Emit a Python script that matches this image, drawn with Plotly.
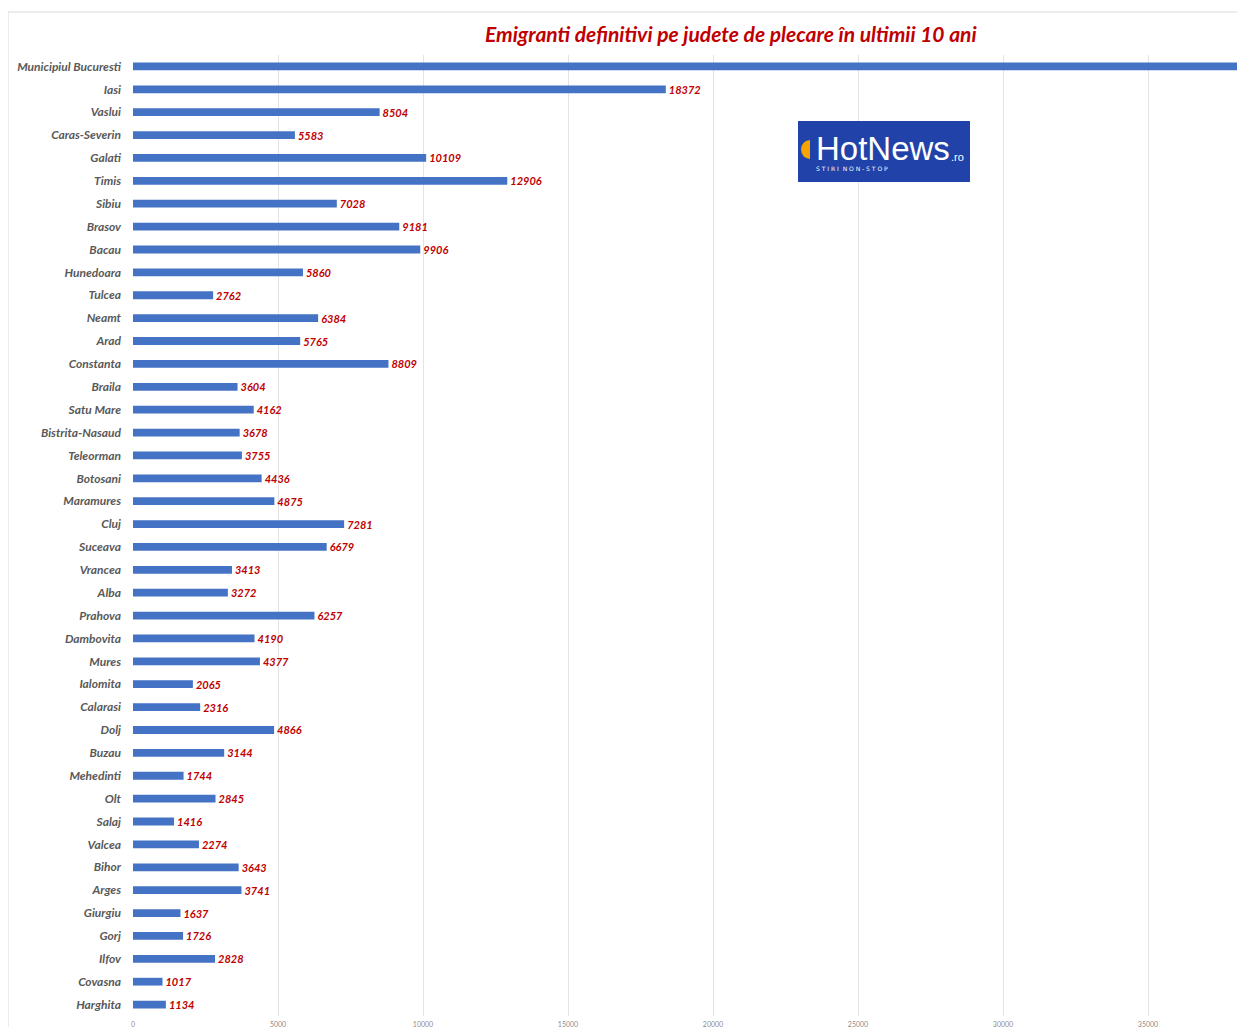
import plotly.graph_objects as go

judete = ["Municipiul Bucuresti", "Iasi", "Vaslui", "Caras-Severin", "Galati", "Timis", "Sibiu",
          "Brasov", "Bacau", "Hunedoara", "Tulcea", "Neamt", "Arad", "Constanta", "Braila",
          "Satu Mare", "Bistrita-Nasaud", "Teleorman", "Botosani", "Maramures", "Cluj", "Suceava",
          "Vrancea", "Alba", "Prahova", "Dambovita", "Mures", "Ialomita", "Calarasi", "Dolj",
          "Buzau", "Mehedinti", "Olt", "Salaj", "Valcea", "Bihor", "Arges", "Giurgiu", "Gorj",
          "Ilfov", "Covasna", "Harghita"]
# Bucuresti bar runs off the visible chart; its value label is not visible (estimate)
emigranti = [43000, 18372, 8504, 5583, 10109, 12906, 7028, 9181, 9906, 5860, 2762, 6384, 5765,
             8809, 3604, 4162, 3678, 3755, 4436, 4875, 7281, 6679, 3413, 3272, 6257, 4190, 4377,
             2065, 2316, 4866, 3144, 1744, 2845, 1416, 2274, 3643, 3741, 1637, 1726, 2828, 1017, 1134]
etichete = [""] + [str(v) for v in emigranti[1:]]
x_ticks = [0, 5000, 10000, 15000, 20000, 25000, 30000, 35000]

OFF = 8  # page body offset
W, H = 1245, 1027
L, R, T, B = 133 - OFF, 8, 55 - OFF, 1027 - (1016 - OFF)
pw, ph = W - L - R, H - T - B

def px(X):
    return (X - OFF - L) / pw

def py(Y):
    return (H - B - (Y - OFF)) / ph

fig = go.Figure(go.Bar(
    y=judete, x=emigranti, orientation="h",
    marker=dict(color="#4472C4", line=dict(width=0)),
    text=etichete, textposition="outside", texttemplate="%{text}",
    constraintext="none",
    textfont=dict(family="Lato", size=11, color="#C00000", weight="bold", style="italic"),
    cliponaxis=True, hoverinfo="x+y",
))

fig.update_layout(
    width=W, height=H,
    margin=dict(l=L, r=R, t=T, b=B, autoexpand=False),
    paper_bgcolor="white", plot_bgcolor="white",
    bargap=0.66,
    showlegend=False,
    xaxis=dict(range=[0, 38345], tickvals=x_ticks, ticktext=[str(v) for v in x_ticks],
               showgrid=True, gridcolor="#E3E3E3", gridwidth=1, zeroline=False,
               showline=False, ticks="", ticklabelstandoff=3,
               tickfont=dict(family="Lato", size=7, color="#8C8C8C"),
               automargin=False),
    yaxis=dict(autorange="reversed", showgrid=False, showline=False, ticks="",
               ticklabelstandoff=11,
               tickfont=dict(family="Lato", size=12, color="#595959", weight="bold", style="italic"),
               automargin=False),
    annotations=[
        dict(text="Emigranti definitivi pe judete de plecare în ultimii 10 ani",
             xref="paper", yref="paper", x=px(731), y=py(33), xanchor="center", yanchor="middle",
             showarrow=False,
             font=dict(family="Lato", size=21, color="#C00000", weight="bold", style="italic")),
        dict(text="HotNews", xref="paper", yref="paper", x=px(814), y=py(149),
             xanchor="left", yanchor="middle", showarrow=False,
             font=dict(family="Liberation Sans", size=33, color="white")),
        dict(text=".ro", xref="paper", yref="paper", x=px(949), y=py(157),
             xanchor="left", yanchor="middle", showarrow=False,
             font=dict(family="Liberation Sans", size=11, color="white")),
        dict(text="S T I R I  N O N - S T O P", xref="paper", yref="paper", x=px(814), y=py(168),
             xanchor="left", yanchor="middle", showarrow=False,
             font=dict(family="DejaVu Sans", size=6, color="white")),
    ],
    shapes=[
        dict(type="line", xref="paper", yref="paper", x0=px(8), x1=px(1260), y0=py(12), y1=py(12),
             line=dict(color="#D9D9D9", width=1)),
        dict(type="line", xref="paper", yref="paper", x0=px(8), x1=px(8), y0=py(12), y1=py(1040),
             line=dict(color="#D9D9D9", width=1)),
        dict(type="rect", xref="paper", yref="paper", x0=px(798), x1=px(970), y0=py(121), y1=py(182),
             fillcolor="#2143A9", line=dict(width=0), layer="above"),
        dict(type="circle", xref="paper", yref="paper", x0=px(801), x1=px(819), y0=py(140), y1=py(159),
             fillcolor="#F7A400", line=dict(width=0), layer="above"),
        dict(type="rect", xref="paper", yref="paper", x0=px(810), x1=px(820), y0=py(138), y1=py(161),
             fillcolor="#2143A9", line=dict(width=0), layer="above"),
    ],
)

fig.write_html("out.html")
